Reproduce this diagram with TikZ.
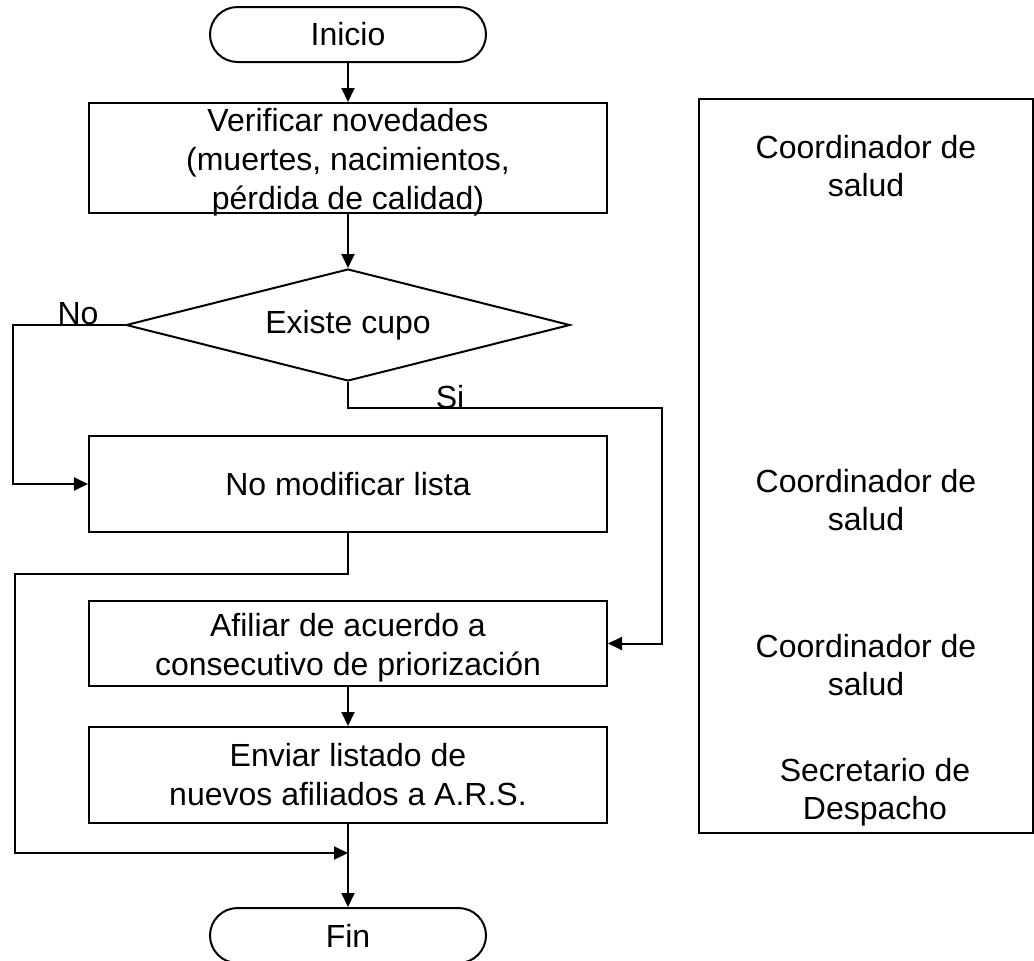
\documentclass[tikz,border=0pt]{standalone}
\usepackage{fontspec}
\setmainfont{Liberation Sans}
\usetikzlibrary{arrows.meta,shapes.geometric,positioning}
\newcommand\alto{\rule{0pt}{31bp}}
\tikzset{
  linea/.style={line width=2bp},
  flecha/.style={linea, -{Triangle[length=14bp,width=13bp]}},
  proceso/.style={draw, linea, minimum width=518bp, inner sep=0pt, align=center,
    font=\fontsize{32bp}{39bp}\selectfont},
  terminal/.style={draw, linea, rounded corners=27.5bp, minimum width=276bp,
    minimum height=55bp, inner sep=0pt, font=\fontsize{32bp}{39bp}\selectfont},
  decision/.style={draw, diamond, aspect=3.96, linea, minimum width=444bp, minimum height=112bp,
    inner sep=0pt, font=\fontsize{32bp}{39bp}\selectfont},
  rotulo/.style={inner sep=0pt, font=\fontsize{32bp}{39bp}\selectfont},
  rol/.style={inner sep=0pt, align=center, font=\fontsize{32bp}{38bp}\selectfont},
}

\begin{document}
\begin{tikzpicture}[x=1bp, y=-1bp]
  \useasboundingbox (0,0) rectangle (1034,961);

  \node[terminal] (inicio) at (348,34.5) {Inicio};
  \node[proceso, inner ysep=-3bp, minimum height=110bp] (verificar) at (348,158)
    {\alto Verificar novedades\\(muertes, nacimientos,\\pérdida de calidad)};
  \node[decision] (cupo) at (348,325) {Existe cupo};
  \node[proceso, minimum height=96bp] (nomod) at (348,484) {No modificar lista};
  \node[proceso, minimum height=85bp] (afiliar) at (348,643.5)
    {\alto Afiliar de acuerdo a\\consecutivo de priorización};
  \node[proceso, minimum height=96bp] (enviar) at (348,775)
    {Enviar listado de\\nuevos afiliados a A.R.S.};
  \node[terminal] (fin) at (348,935.5) {Fin};
  \coordinate (union) at (348,853);

  \node[rotulo] (no) at (78,314) {No};
  \node[rotulo] (si) at (450,397) {Si};

  % responsables
  \node[draw, linea, minimum width=333.5bp, minimum height=734bp] (carril) at (865.75,466) {};
  \node[rol] (rol1) at (866,166) {Coordinador de\\salud};
  \node[rol] (rol2) at (866,500.5) {Coordinador de\\salud};
  \node[rol] (rol3) at (866,665.4) {Coordinador de\\salud};
  \node[rol] (rol4) at (875,792.5) {Secretario de\\Despacho};

  \draw[flecha] (inicio) -- (verificar);
  \draw[flecha] (verificar) -- (cupo);
  \draw[flecha] (cupo.west) -- ++(-112,0) |- (nomod.west);
  \draw[flecha] (cupo.south) -- ++(0,26) -- ++(314,0) |- (afiliar.east);
  \draw[flecha] (nomod.south) -- ++(0,41) -- ++(-333,0) |- (union);
  \draw[flecha] (afiliar) -- (enviar);
  \draw[flecha] (enviar) -- (fin);
\end{tikzpicture}
\end{document}
